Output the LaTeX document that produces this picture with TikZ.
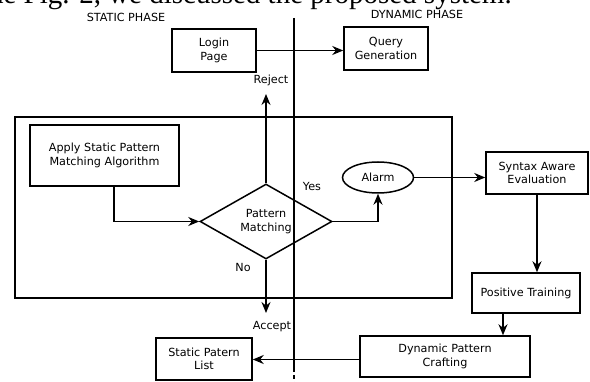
\documentclass[tikz,border=0pt]{standalone}
\usepackage{fontspec}
\setmainfont{DejaVu Sans}
\newfontfamily\serifpage{Liberation Serif}
\usetikzlibrary{shapes.geometric,arrows.meta}
\begin{document}
\begin{tikzpicture}[x=1pt,y=-1pt,
  txt/.style={font=\fontsize{11.2}{13.5}\selectfont},
  box/.style={draw,line width=1.5pt,inner sep=0pt,align=center,txt},
  lbl/.style={inner sep=0pt,txt},
  conn/.style={line width=1.5pt,-{Stealth[length=11pt,width=9pt]}},
  plain/.style={line width=1.5pt},
]
\useasboundingbox (0,0) rectangle (590,382);
\begin{scope}
\clip (0,0) rectangle (590,382);
\node[anchor=base east,inner sep=0pt,font=\serifpage\fontsize{29}{31}\selectfont] (caption) at (512,4) {the Fig. 2, we discussed the proposed system.};
\end{scope}

% frame and phase divider
\node[draw,line width=1.5pt,minimum width=437pt,minimum height=181pt,inner sep=0pt] (frame) at (233.5,207.5) {};
\coordinate (vtop) at (294,18);
\coordinate (vmid) at (294,368);
\coordinate (vbot) at (294,382);
\draw[plain] (vtop) -- (vmid);
\draw[plain,dash pattern=on 4pt off 3pt] (vmid) -- (vbot);

% phase titles
\node[lbl] (static) at (126,17.5) {STATIC PHASE};
\node[lbl] (dynamic) at (417,14.5) {DYNAMIC PHASE};

% boxes
\node[box,minimum width=84pt,minimum height=43pt] (login) at (214,50.5) {Login\\Page};
\node[box,minimum width=84pt,minimum height=43pt] (query) at (386,48.5) {Query\\Generation};
\node[box,minimum width=149pt,minimum height=61pt] (apply) at (104.5,155.5) {Apply Static Pattern\\Matching Algorithm};
\node[draw,diamond,aspect=1.76,minimum width=132pt,minimum height=75pt,inner sep=0pt,line width=1.5pt,align=center,txt] (pm) at (266,221.5) {Pattern\\Matching};
\node[draw,ellipse,minimum width=71pt,minimum height=31pt,inner sep=0pt,line width=1.5pt,txt] (alarm) at (378,177.5) {Alarm};
\node[box,minimum width=102pt,minimum height=42pt] (syntax) at (537,173) {Syntax Aware\\Evaluation};
\node[box,minimum width=108pt,minimum height=40pt] (positive) at (526,293) {Positive Training};
\node[box,minimum width=170pt,minimum height=41pt] (crafting) at (445,356.5) {Dynamic Pattern\\Crafting};
\node[box,minimum width=96pt,minimum height=42pt] (list) at (204,359) {Static Patern\\List};

% labels
\node[lbl] (reject) at (271,80) {Reject};
\node[lbl] (yes) at (312,186) {Yes};
\node[lbl] (no) at (243,267) {No};
\node[lbl] (accept) at (272,327) {Accept};

% connectors
\coordinate (rejtip) at (266,94);
\coordinate (acctip) at (266,313);
\draw[conn] (login.east) -- (login.east -| query.west);
\draw[conn] (pm.north) -- (rejtip);
\draw[conn] (pm.south) -- (acctip);
\draw[conn] ([xshift=9.5pt]apply.south) |- (pm.west);
\draw[conn] (pm.east) -| (alarm.south);
\draw[conn] (alarm.east) -- (alarm.east -| syntax.west);
\draw[conn] (syntax.south) -- (syntax.south |- positive.north);
\draw[conn] ([xshift=-23pt]positive.south) -- ([xshift=-23pt]positive.south |- crafting.north);
\draw[conn] ([yshift=-3pt]crafting.west) -- ([yshift=-3pt]crafting.west -| list.east);
\end{tikzpicture}
\end{document}
